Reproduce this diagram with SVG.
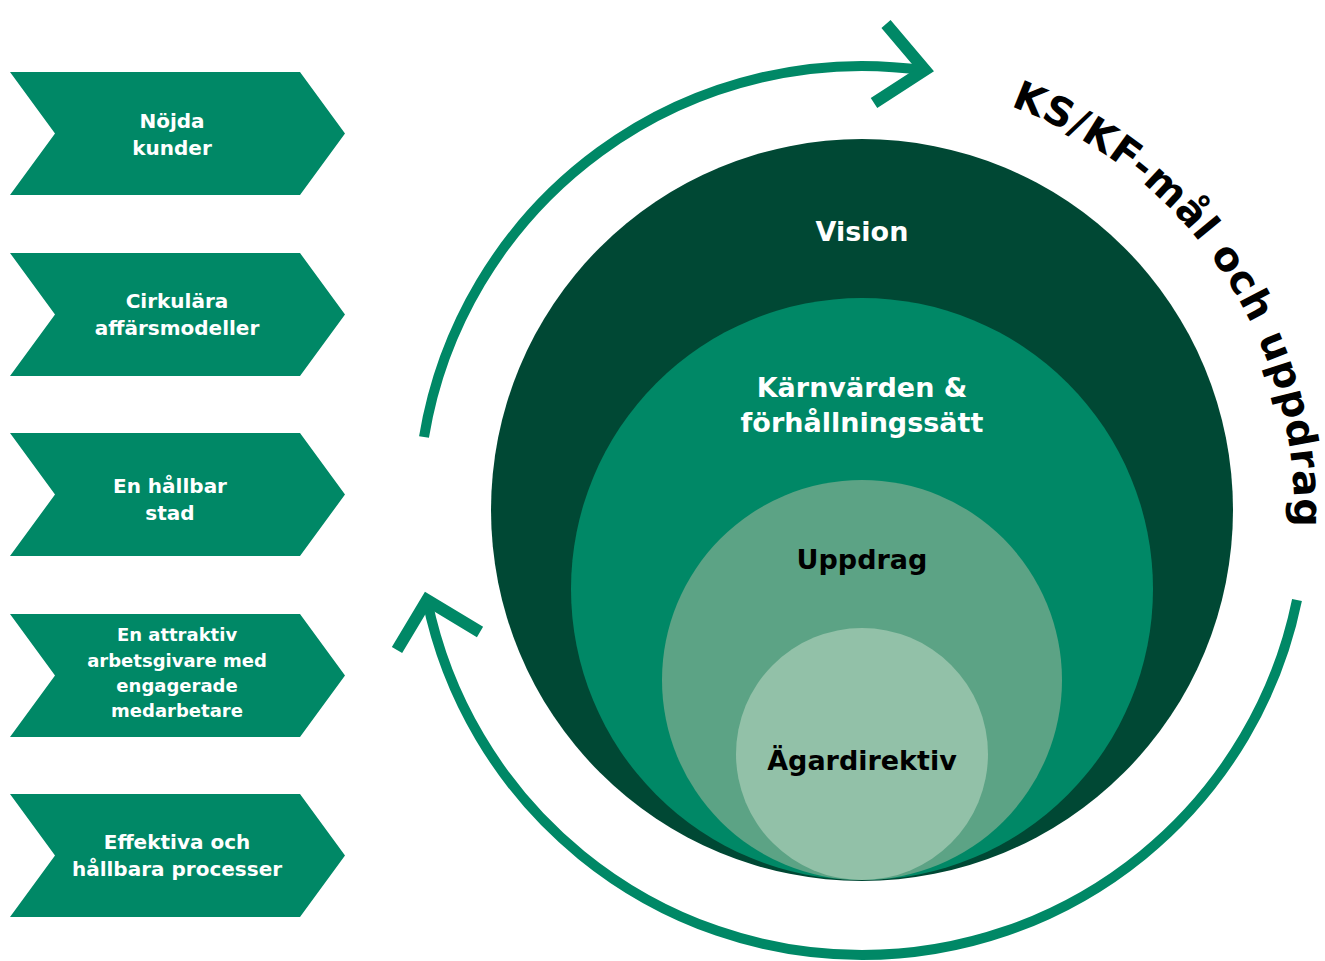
<svg xmlns="http://www.w3.org/2000/svg" width="1325" height="961" viewBox="0 0 1325 961">
<style>
.chev{fill:#008866}
.ct{font-family:"DejaVu Sans",sans-serif;font-weight:bold;font-size:20px;fill:#ffffff;text-anchor:middle}
.ct4{font-size:18px}
.cl{font-family:"DejaVu Sans",sans-serif;font-weight:bold;font-size:27px;text-anchor:middle}
.ring{fill:none;stroke:#008866;stroke-width:10}
.head{fill:none;stroke:#008866;stroke-width:12;stroke-linejoin:miter;stroke-miterlimit:10}
</style>
<defs>
<path id="chevShape" d="M10,0 H300 L345,61.5 L300,123 H10 L55,61.5 Z"/>
<path id="textArc" d="M1010.5,106.4 A430,430 0 0 1 1290,570"/>
</defs>
<rect width="1325" height="961" fill="#ffffff"/>

<g id="chevron1"><use href="#chevShape" class="chev" transform="translate(0,72)"/>
<text class="ct" x="172" y="128">Nöjda</text><text class="ct" x="172" y="155">kunder</text></g>
<g id="chevron2"><use href="#chevShape" class="chev" transform="translate(0,253)"/>
<text class="ct" x="177" y="308">Cirkulära</text><text class="ct" x="177" y="335">affärsmodeller</text></g>
<g id="chevron3"><use href="#chevShape" class="chev" transform="translate(0,433)"/>
<text class="ct" x="170" y="493">En hållbar</text><text class="ct" x="170" y="520">stad</text></g>
<g id="chevron4"><use href="#chevShape" class="chev" transform="translate(0,614)"/>
<text class="ct ct4" x="177" y="641">En attraktiv</text><text class="ct ct4" x="177" y="667">arbetsgivare med</text><text class="ct ct4" x="177" y="692">engagerade</text><text class="ct ct4" x="177" y="717">medarbetare</text></g>
<g id="chevron5"><use href="#chevShape" class="chev" transform="translate(0,794)"/>
<text class="ct" x="177" y="849">Effektiva och</text><text class="ct" x="177" y="876">hållbara processer</text></g>

<g id="vision"><circle cx="862" cy="510" r="371" fill="#004834"/>
<text class="cl" x="862" y="241" fill="#ffffff">Vision</text></g>
<g id="karnvarden"><circle cx="862" cy="589" r="291" fill="#008866"/>
<text class="cl" x="862" y="397" fill="#ffffff">Kärnvärden &amp;</text>
<text class="cl" x="862" y="432" fill="#ffffff">förhållningssätt</text></g>
<g id="uppdrag"><circle cx="862" cy="680" r="200" fill="#5ca385"/>
<text class="cl" x="862" y="569" fill="#000000">Uppdrag</text></g>
<g id="agardirektiv"><circle cx="862" cy="754" r="126" fill="#92c1a8"/>
<text class="cl" x="862" y="770" fill="#000000">Ägardirektiv</text></g>

<g id="connectors">
<path class="ring" d="M424,437 A444,444 0 0 1 925,70.5"/>
<polyline class="head" points="886,24 925,70 874,103"/>
<path class="ring" d="M1297,600 A444,444 0 0 1 427,600"/>
<polyline class="head" points="397,650 427,600 480,632"/>
</g>

<g id="ks-label">
<text font-family="DejaVu Sans, sans-serif" font-weight="bold" font-size="40" fill="#000000"><textPath href="#textArc" textLength="542" lengthAdjust="spacing">KS/KF-mål och uppdrag</textPath></text>
</g>
</svg>
